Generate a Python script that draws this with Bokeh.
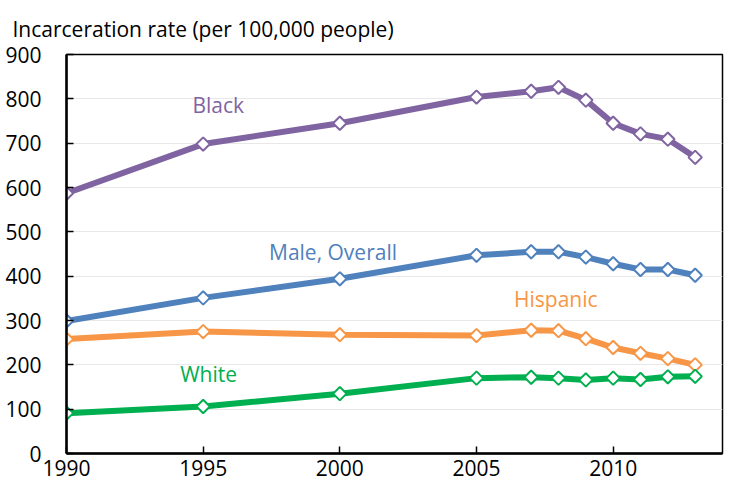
import numpy as np
from bokeh.plotting import figure
from bokeh.models import Range1d, FixedTicker, Label
from bokeh.embed import file_html
from bokeh.resources import INLINE

years = [1990, 1995, 2000, 2005, 2007, 2008, 2009, 2010, 2011, 2012, 2013]
black = [587, 698, 745, 804, 817, 826, 797, 745, 721, 709, 668]
male_overall = [299, 351, 394, 447, 455, 455, 443, 428, 415, 415, 402]
hispanic = [258, 275, 268, 266, 278, 277, 259, 239, 226, 214, 200]
white = [91, 106, 135, 170, 172, 170, 166, 170, 167, 173, 174]

series = [
    ("Black", black, "#8064A2", 1995.55, 785),
    ("Male, Overall", male_overall, "#4F81BD", 1999.75, 454),
    ("Hispanic", hispanic, "#F79646", 2007.9, 349),
    ("White", white, "#00B050", 1995.2, 180),
]
axis_title = "Incarceration rate (per 100,000 people)"

FONT = "Open Sans"

p = figure(width=731, height=487, output_backend="svg", toolbar_location=None,
           x_range=Range1d(1990, 2014), y_range=Range1d(0, 900),
           min_border_left=66, min_border_right=9, min_border_top=53, min_border_bottom=34)

p.title.text = axis_title
p.title.align = "left"
p.title.offset = -54
p.title.standoff = 24
p.title.text_font = FONT
p.title.text_font_size = "21px"
p.title.text_font_style = "normal"
p.title.text_color = "#000000"

p.outline_line_color = "black"
p.outline_line_width = 1.5
p.outline_line_alpha = 1

for ax in (p.xaxis, p.yaxis):
    ax.axis_line_color = "black"
    ax.axis_line_width = 2.5
    ax.major_tick_line_color = "black"
    ax.major_tick_line_width = 1.5
    ax.major_tick_in = 7
    ax.major_tick_out = 0
    ax.minor_tick_line_color = None
    ax.major_label_text_font = FONT
    ax.major_label_text_font_size = "21px"
    ax.major_label_text_color = "black"

p.xaxis.ticker = FixedTicker(ticks=[1990, 1995, 2000, 2005, 2010])
p.yaxis.ticker = FixedTicker(ticks=list(range(0, 901, 100)))
p.xaxis.major_label_standoff = 6
p.yaxis.major_label_standoff = 25

p.xgrid.grid_line_color = None
p.ygrid.grid_line_color = "#e8e8e8"
p.ygrid.grid_line_width = 1

for name, vals, color, lx, ly in series:
    p.line(years, vals, line_color=color, line_width=6)
    p.scatter(years, vals, marker="square", angle=np.pi / 4, size=9.5,
              fill_color="white", line_color=color, line_width=2)
    p.add_layout(Label(x=lx, y=ly, text=name, text_color=color, text_font=FONT,
                       text_font_size="21px", text_align="center",
                       text_baseline="middle"))

open("out.html", "w").write(file_html(p, INLINE))
